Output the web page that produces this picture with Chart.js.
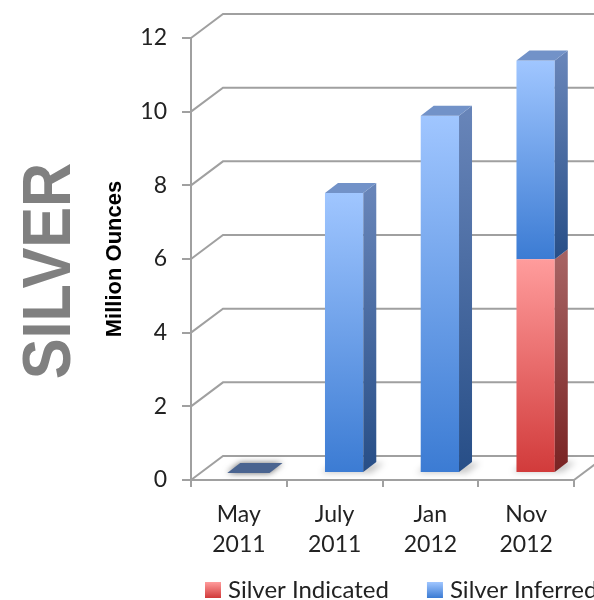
<!DOCTYPE html>
<html>
<head>
<meta charset="utf-8">
<script src="https://cdn.jsdelivr.net/npm/chart.js@4.4.1/dist/chart.umd.min.js"></script>
<style>
  html, body { margin: 0; padding: 0; background: #fff; }
</style>
</head>
<body>
<canvas id="myChart" width="594" height="600"></canvas>
<script>
// silver resource estimates, million ounces
const dates = [['May', '2011'], ['July', '2011'], ['Jan', '2012'], ['Nov', '2012']];
const indicated = [0, 0, 0, 5.8];
const inferred = [0, 7.6, 9.7, 5.4];
const seriesNames = ['Silver Indicated', 'Silver Inferred'];
const yMax = 12;
const yStep = 2;

// fake 3d: how deep the walls are, and where the bars sit inside them
const wall = { dx: 32, dy: -24 };
const barShift = { dx: 9.5, dy: -7 };
const barDepth = { dx: 13, dy: -10 };

const gridColor = '#a0a0a0';
const textColor = '#222222';

// front gradient (top, bottom), side gradient (top, bottom), lid colour
const palette = [
  { front: ['#ff9c9c', '#d13a3a'], side: ['#a66262', '#792323'], top: '#b46c6c' },
  { front: ['#a0c6ff', '#3b7bd3'], side: ['#6784b8', '#274e87'], top: '#7292c8' }
];

// value range of one stacked segment
function segment(chart, d, i) {
  let start = 0;
  for (let k = 0; k < d; k++) start += chart.data.datasets[k].data[i];
  return [start, start + chart.data.datasets[d].data[i]];
}

function frontFill(c) {
  const chart = c.chart;
  const y = chart.scales.y;
  const col = palette[c.datasetIndex];
  if (!y || c.dataIndex === undefined) return col.front[1];
  const [s, e] = segment(chart, c.datasetIndex, c.dataIndex);
  const top = y.getPixelForValue(e), bottom = y.getPixelForValue(s);
  if (!isFinite(top) || !isFinite(bottom)) return col.front[1];
  const g = chart.ctx.createLinearGradient(0, top, 0, bottom + 1);
  g.addColorStop(0, col.front[0]);
  g.addColorStop(1, col.front[1]);
  return g;
}

function poly(ctx, pts) {
  ctx.beginPath();
  ctx.moveTo(pts[0][0], pts[0][1]);
  for (let k = 1; k < pts.length; k++) ctx.lineTo(pts[k][0], pts[k][1]);
  ctx.closePath();
}

const depthPlugin = {
  id: 'depth',
  beforeDatasetsDraw(chart) {
    const { ctx, chartArea: a, scales: { y } } = chart;
    ctx.save();
    ctx.strokeStyle = gridColor;
    ctx.lineWidth = 2;
    // side wall diagonals + back wall lines
    for (let v = 0; v <= yMax; v += yStep) {
      const py = y.getPixelForValue(v);
      ctx.beginPath();
      ctx.moveTo(a.left, py);
      ctx.lineTo(a.left + wall.dx, py + wall.dy);
      ctx.lineTo(chart.width, py + wall.dy);
      ctx.stroke();
    }
    // floor, right edge
    ctx.beginPath();
    ctx.moveTo(a.right, a.bottom);
    ctx.lineTo(a.right + wall.dx, a.bottom + wall.dy);
    ctx.stroke();
    ctx.restore();

    // bars are drawn pushed back into the box
    ctx.save();
    ctx.translate(barShift.dx, barShift.dy);

    // soft shadows on the floor
    const meta = chart.getDatasetMeta(0);
    ctx.save();
    ctx.filter = 'blur(3px)';
    ctx.fillStyle = 'rgba(0,0,0,0.22)';
    meta.data.forEach((bar, i) => {
      const total = chart.data.datasets.reduce((t, ds) => t + ds.data[i], 0);
      if (total <= 0) return;
      const { x, base, width } = bar.getProps(['x', 'base', 'width'], true);
      const l = x - width / 2, r = x + width / 2;
      poly(ctx, [[l - 4, base], [r + 8, base], [r + barDepth.dx + 8, base + barDepth.dy],
                 [l + barDepth.dx - 4, base + barDepth.dy]]);
      ctx.fill();
    });
    ctx.restore();
  },
  afterDatasetsDraw(chart) {
    const ctx = chart.ctx;
    const sets = chart.data.datasets;
    chart.data.labels.forEach((lab, i) => {
      // topmost visible piece of the stack gets the lid
      let topD = sets.length - 1;
      for (let d = sets.length - 1; d >= 0; d--) {
        if (sets[d].data[i] > 0) { topD = d; break; }
      }
      sets.forEach((ds, d) => {
        const bar = chart.getDatasetMeta(d).data[i];
        const { x, y, base, width } = bar.getProps(['x', 'y', 'base', 'width'], true);
        const l = x - width / 2, r = x + width / 2;
        const col = palette[d];
        if (ds.data[i] > 0) {
          const g = ctx.createLinearGradient(0, y, 0, base);
          g.addColorStop(0, col.side[0]);
          g.addColorStop(1, col.side[1]);
          ctx.fillStyle = g;
          poly(ctx, [[r, y], [r + barDepth.dx, y + barDepth.dy],
                     [r + barDepth.dx, base + barDepth.dy], [r, base]]);
          ctx.fill();
        }
        if (d === topD) {
          ctx.save();
          if (ds.data[i] <= 0) {
            // empty column: only a flat tile on the floor
            ctx.shadowColor = 'rgba(0,0,0,0.6)';
            ctx.shadowBlur = 6;
            ctx.fillStyle = '#4a6490';
            poly(ctx, [[l - 2, y], [r + 2, y], [r + barDepth.dx + 2, y + barDepth.dy],
                       [l + barDepth.dx - 2, y + barDepth.dy]]);
          } else {
            ctx.fillStyle = col.top;
            poly(ctx, [[l, y], [r, y], [r + barDepth.dx, y + barDepth.dy],
                       [l + barDepth.dx, y + barDepth.dy]]);
          }
          ctx.fill();
          ctx.restore();
        }
      });
    });
    ctx.restore();
  },
  afterDraw(chart) {
    const { ctx, chartArea: a } = chart;
    // big vertical heading
    ctx.save();
    ctx.translate(46, 271);
    ctx.rotate(-Math.PI / 2);
    ctx.scale(0.9, 1);
    ctx.font = 'bold 68px "Liberation Sans"';
    ctx.fillStyle = '#808080';
    ctx.textAlign = 'center';
    ctx.textBaseline = 'alphabetic';
    ctx.fillText('SILVER', 0, 24);
    ctx.restore();

    // legend
    ctx.save();
    ctx.font = '24px Lato';
    ctx.textBaseline = 'middle';
    ctx.fillStyle = textColor;
    let lx = a.left + 14;
    const ly = 590, box = 16;
    chart.data.datasets.forEach((ds, d) => {
      const g = ctx.createLinearGradient(0, ly - box / 2, 0, ly + box / 2);
      g.addColorStop(0, palette[d].front[0]);
      g.addColorStop(1, palette[d].front[1]);
      ctx.fillStyle = g;
      ctx.fillRect(lx, ly - box / 2, box, box);
      ctx.fillStyle = textColor;
      ctx.fillText(ds.label, lx + box + 7, ly);
      lx += box + 7 + ctx.measureText(ds.label).width + 38;
    });
    ctx.restore();
  }
};

const tickFont = { family: 'Lato', size: 23, lineHeight: 1.3 };

new Chart(document.getElementById('myChart'), {
  type: 'bar',
  data: {
    labels: dates,
    datasets: [
      { label: seriesNames[0], data: indicated, backgroundColor: frontFill },
      { label: seriesNames[1], data: inferred, backgroundColor: frontFill }
    ]
  },
  options: {
    responsive: false,
    animation: false,
    layout: { padding: { left: 0, right: 20, top: 38, bottom: 0 } },
    datasets: { bar: { categoryPercentage: 1, barPercentage: 0.4, borderWidth: 0 } },
    plugins: { legend: { display: false }, tooltip: { enabled: false } },
    scales: {
      x: {
        stacked: true,
        grid: { drawOnChartArea: false, tickLength: 7, color: gridColor, lineWidth: 2 },
        border: { color: gridColor, width: 2 },
        ticks: { font: tickFont, color: textColor, padding: 13, maxRotation: 0 },
        afterFit(s) { s.height = 120; }
      },
      y: {
        stacked: true,
        min: 0,
        max: yMax,
        grid: { drawOnChartArea: false, tickLength: 9, color: gridColor, lineWidth: 2 },
        border: { color: gridColor, width: 2 },
        ticks: { stepSize: yStep, font: tickFont, color: textColor, padding: 15 },
        title: {
          display: true,
          text: 'Million Ounces',
          color: '#000',
          font: { family: 'Liberation Sans', weight: 'bold', size: 22 },
          padding: { top: 102, bottom: 0 }
        },
        afterFit(s) { s.width = 191; }
      }
    }
  },
  plugins: [depthPlugin]
});
</script>
</body>
</html>
